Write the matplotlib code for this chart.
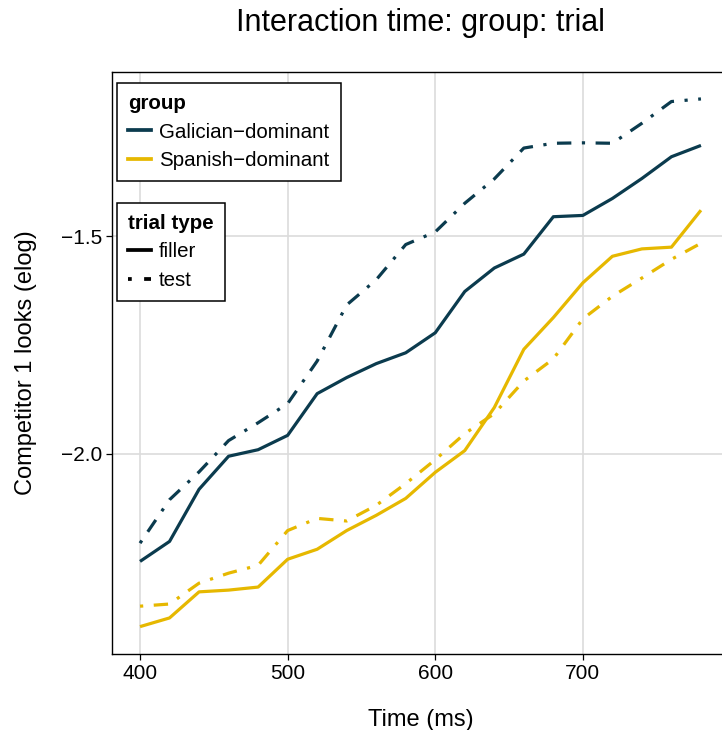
import matplotlib.pyplot as plt
from matplotlib.lines import Line2D

plt.rcParams['font.family'] = ['Liberation Sans', 'DejaVu Sans']

# time bins (ms)
time_ms = [400, 420, 440, 460, 480, 500, 520, 540, 560, 580,
           600, 620, 640, 660, 680, 700, 720, 740, 760, 780]

# competitor 1 looks (elog) per group x trial type
gal_filler = [-2.248, -2.202, -2.082, -2.006, -1.991, -1.958, -1.862, -1.825, -1.793, -1.768,
              -1.722, -1.627, -1.573, -1.541, -1.455, -1.452, -1.413, -1.367, -1.317, -1.291]
gal_test = [-2.206, -2.106, -2.042, -1.970, -1.929, -1.885, -1.787, -1.658, -1.600, -1.519,
            -1.490, -1.424, -1.368, -1.297, -1.286, -1.285, -1.286, -1.240, -1.190, -1.184]
spa_filler = [-2.398, -2.378, -2.318, -2.314, -2.307, -2.243, -2.220, -2.177, -2.142, -2.103,
              -2.043, -1.993, -1.894, -1.760, -1.687, -1.607, -1.546, -1.529, -1.525, -1.440]
spa_test = [-2.351, -2.346, -2.298, -2.275, -2.257, -2.177, -2.149, -2.155, -2.119, -2.069,
            -2.014, -1.954, -1.908, -1.833, -1.782, -1.690, -1.638, -1.596, -1.553, -1.516]

groups = ['Galician\u2212dominant', 'Spanish\u2212dominant']
trial_types = ['filler', 'test']
colors = {'Galician\u2212dominant': '#0B3B4E', 'Spanish\u2212dominant': '#E6B800'}
# dot-dash for test trials (starts with the dot, like ggplot's "dotdash")
styles = {'filler': '-', 'test': (0, (1, 3.3, 4.5, 3.3))}

series = {
    ('Galician\u2212dominant', 'filler'): gal_filler,
    ('Galician\u2212dominant', 'test'): gal_test,
    ('Spanish\u2212dominant', 'filler'): spa_filler,
    ('Spanish\u2212dominant', 'test'): spa_test,
}

fig = plt.figure(figsize=(7.22, 7.30), dpi=100)
ax = fig.add_axes([0.1551, 0.1041, 0.8546, 0.7973])

for (g, t), vals in series.items():
    ax.plot(time_ms, vals, color=colors[g], linestyle=styles[t], linewidth=2.3,
            solid_capstyle='butt', dash_capstyle='butt')

ax.set_xlim(381, 799)
ax.set_ylim(-2.461, -1.122)
ax.set_xticks([400, 500, 600, 700])
ax.set_yticks([-2.0, -1.5])
ax.set_yticklabels(['\u22122.0', '\u22121.5'])
ax.grid(True, color='#DCDCDC', linewidth=1.2)
ax.set_axisbelow(True)
ax.tick_params(axis='both', labelsize=15, length=4, width=0.9, color='black',
               labelcolor='black', pad=3)
for s in ax.spines.values():
    s.set_linewidth(1.0)
    s.set_color('black')

ax.set_xlabel('Time (ms)', fontsize=17, labelpad=19)
ax.set_ylabel('Competitor 1 looks (elog)', fontsize=17, labelpad=17)
fig.text(0.582, 0.968, 'Interaction time: group: trial', fontsize=22,
         ha='center', va='center')

# legends
leg_kw = dict(loc='upper left', fontsize=14.8, title_fontsize=14.8, frameon=True,
              framealpha=1, fancybox=False, edgecolor='black', handlelength=1.1,
              handletextpad=0.4, borderpad=0.55, labelspacing=0.45, alignment='left',
              borderaxespad=0)

h_group = [Line2D([], [], color=colors[g], lw=2.7) for g in groups]
leg1 = ax.legend(h_group, groups, title='group', bbox_to_anchor=(0.008, 0.981), **leg_kw)
leg1.get_title().set_fontweight('bold')
leg1.get_frame().set_linewidth(1.1)
ax.add_artist(leg1)

h_trial = [Line2D([], [], color='black', lw=2.7, linestyle=styles[t]) for t in trial_types]
leg2 = ax.legend(h_trial, trial_types, title='trial type', bbox_to_anchor=(0.008, 0.775), **leg_kw)
leg2.get_title().set_fontweight('bold')
leg2.get_frame().set_linewidth(1.1)

fig.savefig('out.png', dpi=100)
